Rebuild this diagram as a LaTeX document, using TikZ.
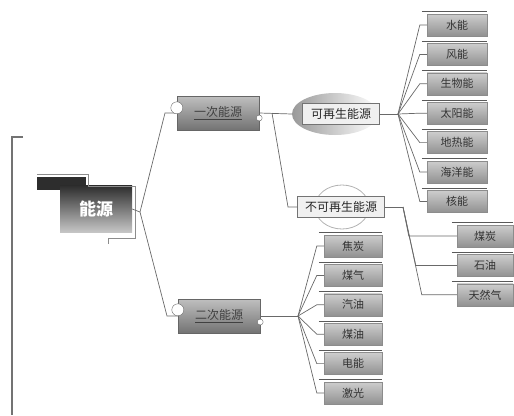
\documentclass[tikz,border=0pt]{standalone}
\usepackage{fontspec}
\setmainfont{Noto Sans CJK SC}
\usepackage{xcolor}
\usetikzlibrary{positioning, calc, shapes.geometric}
\definecolor{linegray}{RGB}{105,105,105}
\definecolor{boxtop}{RGB}{205,205,205}
\definecolor{boxbot}{RGB}{145,145,145}
\definecolor{darkbg}{RGB}{45,45,45}
\tikzset{
  link/.style={draw=linegray, line width=0.7pt},
  toprule/.style={draw=black!65, line width=0.9pt},
  frame/.style={draw=black!55, line width=1.1pt},
  leaf/.style={
    rectangle, draw=black!45, top color=boxtop, bottom color=boxbot,
    minimum width=60pt, minimum height=22pt, inner sep=0pt,
    font=\fontsize{11}{13}\selectfont, text=black!80
  },
  level/.style={
    rectangle, draw=black!60, top color=black!25, bottom color=black!55,
    minimum width=82pt, minimum height=34pt, inner sep=0pt,
    font=\fontsize{12}{14}\selectfont, text=black!75
  },
  branch/.style={
    rectangle, draw=black!55, fill=black!6,
    minimum height=21pt, inner sep=3pt,
    font=\fontsize{12}{14}\selectfont, text=black!85
  },
  rootbox/.style={
    rectangle, top color=darkbg, bottom color=black!22, draw=none,
    minimum width=72pt, minimum height=47pt, inner sep=0pt,
    font=\fontsize{17}{19}\selectfont\bfseries, text=white
  },
  knob/.style={circle, draw=black!60, fill=white, inner sep=0pt},
}
\begin{document}
\begin{tikzpicture}[x=1pt, y=-1pt, node distance=7pt]
  \useasboundingbox (0,0) rectangle (514,415);
  \draw[frame] (23,137) -- (12,137) -- (12,415);

  \fill[darkbg] (37,177) rectangle (86,190);
  \node[rootbox] (root) at (96,209) {\raisebox{-6pt}{能源}};
  \draw[black!45, line width=0.8pt] (37,174) -- (88,174) -- (88,186) -- (135,186)
    -- (135,238) -- (108,238) -- (108,244);

  \node[level] (p1) at (218,113) {\underline{一次能源}};
  \node[level] (p2) at (219,316) {\underline{二次能源}};

  \node[ellipse, minimum width=86pt, minimum height=42pt, left color=black!40,
        right color=white, draw=none] (re) at (335,114) {};
  \node[branch, minimum width=77pt] (r1) at (341,114) {可再生能源};
  \draw[black!30, line width=0.8pt] (342,207) ellipse (27pt and 22pt);
  \node[branch, minimum width=87pt] (nr) at (341,207) {不可再生能源};

  \node[leaf] (w1) at (457,25) {水能};
  \node[leaf, below=of w1] (w2) {风能};
  \node[leaf, below=of w2] (w3) {生物能};
  \node[leaf, below=of w3] (w4) {太阳能};
  \node[leaf, below=of w4] (w5) {地热能};
  \node[leaf, below=of w5] (w6) {海洋能};
  \node[leaf, below=of w6] (w7) {核能};

  \node[leaf, minimum width=56pt] (m1) at (485,236) {煤炭};
  \node[leaf, minimum width=56pt, below=of m1] (m2) {石油};
  \node[leaf, minimum width=56pt, below=of m2] (m3) {天然气};

  \node[leaf, minimum width=58pt] (s1) at (353,246) {焦炭};
  \node[leaf, minimum width=58pt, below=of s1] (s2) {煤气};
  \node[leaf, minimum width=58pt, below=of s2] (s3) {汽油};
  \node[leaf, minimum width=58pt, below=of s3] (s4) {煤油};
  \node[leaf, minimum width=58pt, below=of s4] (s5) {电能};
  \node[leaf, minimum width=58pt, below=of s5] (s6) {激光};

  \foreach \n in {w1,w2,w3,w4,w5,w6,w7,m1,m2,m3,s1,s2,s3,s4,s5,s6}
    \draw[toprule] ([xshift=-5pt, yshift=2pt]\n.north west) -- ([yshift=2pt]\n.north east);

  \coordinate (rj) at (140,212);
  \coordinate (j1) at (272,113);
  \coordinate (jr) at (398,114);
  \coordinate (jn) at (403,207);
  \coordinate (j2) at (298,316);

  \draw[link] (root.east) -- (rj);
  \draw[link] (rj) -- (165,113) -- (p1.west);
  \draw[link] (rj) -- (167,316) -- (p2.west);
  \draw[link] (p1.east) -- (re.west);
  \draw[link] (j1) -- (288,207) -- (nr.west);
  \draw[link] (r1.east) -- (jr);
  \draw[link] (nr.east) -- (jn);
  \draw[link] (p2.east) -- (j2);
  \foreach \n in {1,...,7}
    \draw[link] (jr) -- ([xshift=-7pt]w\n.west) -- (w\n.west);
  \foreach \n/\d in {1/48,2/41,3/35}
    \draw[link] (jn) -- ([xshift=-\d pt]m\n.west) -- (m\n.west);
  \foreach \n in {1,...,6}
    \draw[link] (j2) -- ([xshift=-7pt]s\n.west) -- (s\n.west);

  \node[knob, minimum size=12pt] (k1) at ([yshift=-12pt]p1.north west) {};
  \node[knob, minimum size=6pt] (k2) at ([yshift=-5pt]p1.east) {};
  \node[knob, minimum size=12pt] (k3) at ([yshift=-11pt]p2.north west) {};
  \node[knob, minimum size=6pt] (k4) at ([yshift=-6pt]p2.east) {};
\end{tikzpicture}
\end{document}
